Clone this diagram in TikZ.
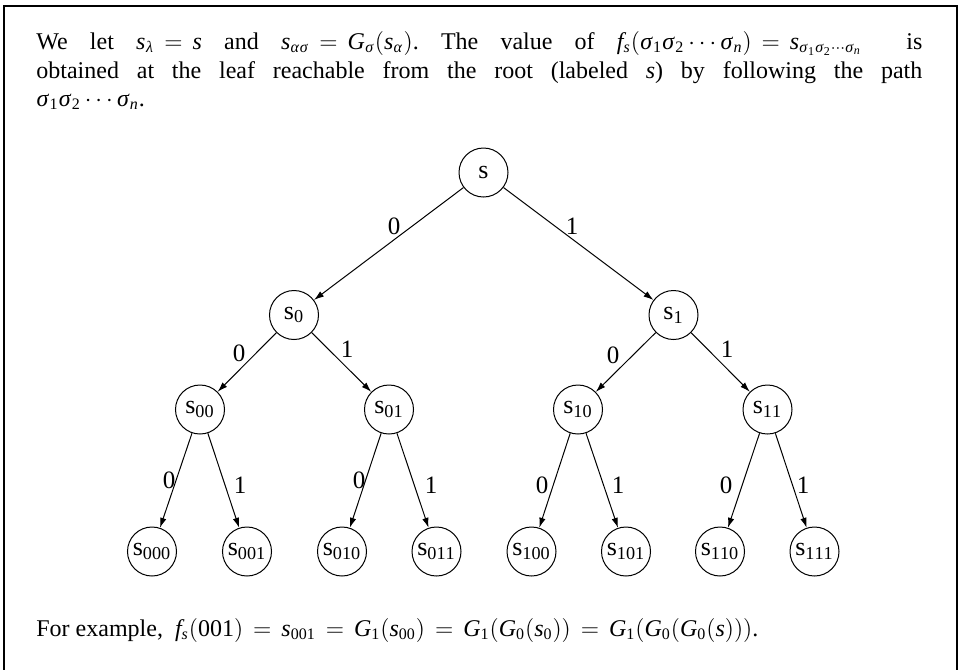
\documentclass[tikz,border=0pt]{standalone}
\usepackage{mathspec}
\setmainfont{Liberation Serif}
\setmathsfont(Digits,Latin,Greek){Liberation Serif}
\usetikzlibrary{arrows.meta}
\thickmuskip=7.5mu\relax
\medmuskip=4mu\relax
\frenchspacing
\tikzset{
  tnode/.style={circle, draw, line width=0.5pt, minimum size=24.5pt, inner sep=0pt,
    font=\fontsize{13}{15}\selectfont},
  conn/.style={line width=0.5pt, -{Latex[length=5pt,width=3.2pt]}},
  lbl/.style={inner sep=0pt, font=\fontsize{12.5}{15}\selectfont},
  txt/.style={anchor=base west, inner sep=0pt, font=\fontsize{12}{14.5}\selectfont},
}
\begin{document}
\begin{tikzpicture}[x=0.5pt, y=-0.5pt]
\useasboundingbox (0,0) rectangle (960,670);
\clip (0,0) rectangle (960,670);
% frame
\draw[line width=1pt] (4,5.5) rectangle (956.5,690);
% text
\node[txt] (l1) at (36,49) {\hbox to 443pt{\frenchspacing We let $s_\lambda = s$ and $s_{\alpha\sigma} = G_\sigma(s_\alpha)$. The value of $f_s(\sigma_1\sigma_2\cdots\sigma_n) = s_{\sigma_1\sigma_2\cdots\sigma_n}$ \ is}};
\node[txt] (l2) at (36,78) {\hbox to 443pt{obtained at the leaf reachable from the root (labeled $s$) by following the path}};
\node[txt] (l3) at (36,106) {$\sigma_1\sigma_2\cdots\sigma_n$.};
\node[txt] (l4) at (36,636) {For example, \ $f_s(001) = s_{001} = G_1(s_{00}) = G_1(G_0(s_0)) = G_1(G_0(G_0(s)))$.};
% tree nodes
\node[tnode] (r) at (483.5,172.5) {s};
\node[tnode] (n0) at (294,315) {s$_0$};
\node[tnode] (n1) at (673.5,315) {s$_1$};
\node[tnode] (n00) at (200,409.5) {s$_{00}$};
\node[tnode] (n01) at (389,409.5) {s$_{01}$};
\node[tnode] (n10) at (578,409.5) {s$_{10}$};
\node[tnode] (n11) at (767.5,409.5) {s$_{11}$};
\node[tnode] (n000) at (152,551.5) {s$_{000}$};
\node[tnode] (n001) at (247,551.5) {s$_{001}$};
\node[tnode] (n010) at (342,551.5) {s$_{010}$};
\node[tnode] (n011) at (436.5,551.5) {s$_{011}$};
\node[tnode] (n100) at (531.5,551.5) {s$_{100}$};
\node[tnode] (n101) at (626,551.5) {s$_{101}$};
\node[tnode] (n110) at (720,551.5) {s$_{110}$};
\node[tnode] (n111) at (814.5,551.5) {s$_{111}$};
% connectors
\draw[conn] (r) -- (n0);
\draw[conn] (r) -- (n1);
\draw[conn] (n0) -- (n00);
\draw[conn] (n0) -- (n01);
\draw[conn] (n1) -- (n10);
\draw[conn] (n1) -- (n11);
\draw[conn] (n00) -- (n000);
\draw[conn] (n00) -- (n001);
\draw[conn] (n01) -- (n010);
\draw[conn] (n01) -- (n011);
\draw[conn] (n10) -- (n100);
\draw[conn] (n10) -- (n101);
\draw[conn] (n11) -- (n110);
\draw[conn] (n11) -- (n111);
% edge labels
\node[lbl] (e0) at (394,226) {0};
\node[lbl] (e1) at (572,226) {1};
\node[lbl] (e00) at (239,353) {0};
\node[lbl] (e01) at (347,349) {1};
\node[lbl] (e10) at (613,355) {0};
\node[lbl] (e11) at (727,349) {1};
\node[lbl] (e000) at (169,480) {0};
\node[lbl] (e001) at (240,485) {1};
\node[lbl] (e010) at (359,480) {0};
\node[lbl] (e011) at (431,485) {1};
\node[lbl] (e100) at (542,485) {0};
\node[lbl] (e101) at (618,485) {1};
\node[lbl] (e110) at (726,485) {0};
\node[lbl] (e111) at (803,485) {1};
\end{tikzpicture}
\end{document}
